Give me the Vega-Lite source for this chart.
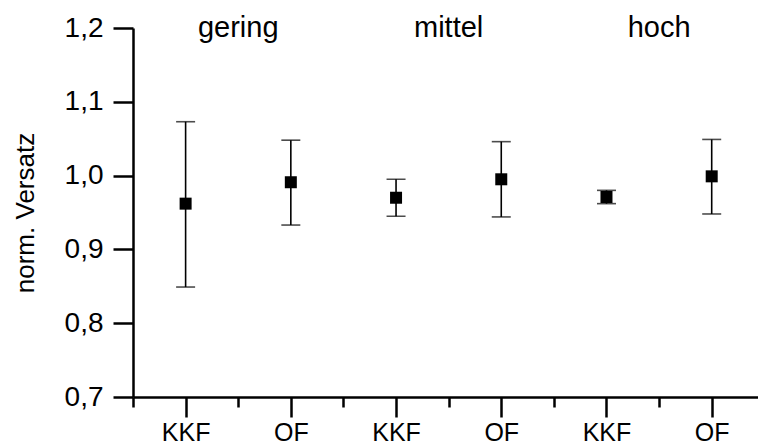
{
  "$schema": "https://vega.github.io/schema/vega-lite/v6.json",
  "width": 625,
  "height": 369,
  "autosize": "none",
  "padding": {"left": 133, "top": 28, "right": 0, "bottom": 48},
  "background": "white",
  "config": {
    "view": {"stroke": null},
    "font": "Liberation Sans",
    "axis": {
      "labelFont": "Liberation Sans",
      "titleFont": "Liberation Sans",
      "labelFontSize": 28,
      "titleFontSize": 26,
      "titleFontWeight": "normal",
      "labelColor": "black",
      "titleColor": "black",
      "domainColor": "black",
      "tickColor": "black",
      "domainWidth": 2.5,
      "tickWidth": 2.5,
      "grid": false
    }
  },
  "data": {
    "values": [
      {"x": 1, "cat": "KKF", "grp": "gering", "mean": 0.962, "lo": 0.849, "hi": 1.073},
      {"x": 2, "cat": "OF", "grp": "gering", "mean": 0.991, "lo": 0.933, "hi": 1.048},
      {"x": 3, "cat": "KKF", "grp": "mittel", "mean": 0.970, "lo": 0.945, "hi": 0.995},
      {"x": 4, "cat": "OF", "grp": "mittel", "mean": 0.995, "lo": 0.944, "hi": 1.046},
      {"x": 5, "cat": "KKF", "grp": "hoch", "mean": 0.971, "lo": 0.962, "hi": 0.980},
      {"x": 6, "cat": "OF", "grp": "hoch", "mean": 0.999, "lo": 0.948, "hi": 1.049}
    ]
  },
  "layer": [
    {
      "mark": {"type": "rule", "color": "black", "strokeWidth": 1.6},
      "encoding": {
        "x": {
          "field": "x", "type": "quantitative",
          "scale": {"domain": [0.5, 6.44], "nice": false, "zero": false},
          "axis": {
            "title": null,
            "values": [0.5, 1, 1.5, 2, 2.5, 3, 3.5, 4, 4.5, 5, 5.5, 6],
            "labelExpr": "datum.value % 1 != 0 ? '' : (datum.value % 2 == 1 ? 'KKF' : 'OF')",
            "tickSize": {"condition": {"test": "datum.value % 1 != 0", "value": 10}, "value": 20},
            "labelFontSize": 25,
            "labelPadding": 3,
            "labelFlush": false,
            "labelOverlap": false
          }
        },
        "y": {
          "field": "lo", "type": "quantitative",
          "scale": {"domain": [0.7, 1.2], "nice": false, "zero": false},
          "axis": {
            "title": "norm. Versatz",
            "values": [0.7, 0.75, 0.8, 0.85, 0.9, 0.95, 1.0, 1.05, 1.1, 1.15, 1.2],
            "labelExpr": "abs(round(datum.value*10) - datum.value*10) > 0.01 ? '' : replace(format(datum.value, '.1f'), '.', ',')",
            "tickSize": {"condition": {"test": "abs(round(datum.value*10) - datum.value*10) > 0.01", "value": 10}, "value": 20},
            "labelPadding": 10,
            "titlePadding": 26,
            "labelFlush": false,
            "labelOverlap": false
          }
        },
        "y2": {"field": "hi"}
      }
    },
    {
      "mark": {"type": "tick", "orient": "horizontal", "color": "black", "size": 19, "thickness": 1.6},
      "encoding": {
        "x": {"field": "x", "type": "quantitative"},
        "y": {"field": "lo", "type": "quantitative"}
      }
    },
    {
      "mark": {"type": "tick", "orient": "horizontal", "color": "black", "size": 19, "thickness": 1.6},
      "encoding": {
        "x": {"field": "x", "type": "quantitative"},
        "y": {"field": "hi", "type": "quantitative"}
      }
    },
    {
      "mark": {"type": "point", "shape": "square", "filled": true, "color": "black", "size": 144, "opacity": 1},
      "encoding": {
        "x": {"field": "x", "type": "quantitative"},
        "y": {"field": "mean", "type": "quantitative"}
      }
    },
    {
      "data": {
        "values": [
          {"gx": 1.5, "gy": 1.2, "label": "gering"},
          {"gx": 3.5, "gy": 1.2, "label": "mittel"},
          {"gx": 5.5, "gy": 1.2, "label": "hoch"}
        ]
      },
      "mark": {"type": "text", "font": "Liberation Sans", "fontSize": 29, "color": "black", "baseline": "middle", "align": "center"},
      "encoding": {
        "x": {"field": "gx", "type": "quantitative"},
        "y": {"field": "gy", "type": "quantitative"},
        "text": {"field": "label"}
      }
    }
  ]
}
